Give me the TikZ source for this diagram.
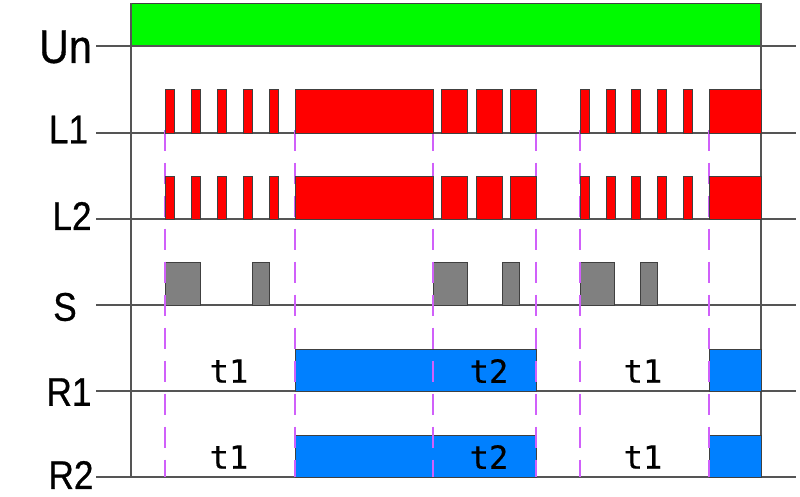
\documentclass[tikz,border=0pt]{standalone}
\usepackage{fontspec}
\usepackage{graphicx}
\setmainfont{Liberation Sans}
\newfontfamily\lblfont{Liberation Sans}[FakeBold=0.7]
\newfontfamily\tfont{DejaVu Sans Mono}[FakeBold=0.5]
\definecolor{ungreen}{RGB}{0,250,0}
\definecolor{pred}{RGB}{255,0,0}
\definecolor{pgray}{RGB}{128,128,128}
\definecolor{pblue}{RGB}{0,128,255}
\definecolor{dmag}{RGB}{208,96,250}
\definecolor{axgray}{RGB}{85,85,85}
\begin{document}
\begin{tikzpicture}[x=1pt,y=-1pt,
  axis/.style={draw=axgray,line width=1.6pt},
  redpulse/.style={draw=black!75,line width=0.9pt,fill=pred},
  graypulse/.style={draw=black!75,line width=0.9pt,fill=pgray},
  bluepulse/.style={draw=black!75,line width=0.9pt,fill=pblue},
  greenbox/.style={draw=black!75,line width=0.9pt,fill=ungreen},
  marker/.style={draw=dmag,line width=1.7pt,dash pattern=on 21.5pt off 11.5pt},
  rowlabel/.style={inner sep=0pt,anchor=center,font=\lblfont\fontsize{40}{40}\selectfont},
  tlabel/.style={inner sep=0pt,anchor=center,font=\tfont\fontsize{32}{32}\selectfont}]
\useasboundingbox (0,0) rectangle (800,496);
% green supply box
\path[greenbox] (131,3) rectangle (761,46);
% horizontal axes
\foreach \yy in {46,133,219,305,391,477}{
  \draw[axis] (96,\yy) -- (796,\yy);
}
% vertical axes
\draw[axis] (131,3) -- (131,477);
\draw[axis] (761,3) -- (761,477);
% blue relay boxes
\foreach \top/\bot in {349/391,435/477}{
  \path[bluepulse] (295,\top) rectangle (536,\bot);
  \path[bluepulse] (709,\top) rectangle (761,\bot);
}
% gray pulses S
\foreach \xa/\xb in {165/200,252/269,433/467,502/519,580/614,640/657}{
  \path[graypulse] (\xa,262) rectangle (\xb,305);
}
% magenta dashed markers
\foreach \xx [count=\i] in {165,295,433,536,580,709}{
  \coordinate (mt\i) at (\xx,129.5);
  \coordinate (mb\i) at (\xx,477);
  \draw[marker] (mt\i) -- (mb\i);
}
% red pulses L1, L2
\foreach \top/\bot in {89/133,176/219}{
  \foreach \xa in {165,191,217,243,269,580,606,631,657,683}{
    \path[redpulse] (\xa,\top) rectangle (\xa+9,\bot);
  }
  \path[redpulse] (295,\top) rectangle (433,\bot);
  \foreach \xa in {441,476,510}{
    \path[redpulse] (\xa,\top) rectangle (\xa+26,\bot);
  }
  \path[redpulse] (709,\top) rectangle (761,\bot);
}
% row labels
\node[rowlabel,font=\lblfont\fontsize{47}{47}\selectfont] (lun) at (65.5,47) {\scalebox{0.88}[1]{Un}};
\node[rowlabel] (ll1) at (68.5,129.5) {\scalebox{0.88}[1]{L1}};
\node[rowlabel] (ll2) at (72,216) {\scalebox{0.88}[1]{L2}};
\node[rowlabel] (ls) at (65,307) {\scalebox{0.88}[1]{S}};
\node[rowlabel] (lr1) at (69,392) {\scalebox{0.88}[1]{R1}};
\node[rowlabel] (lr2) at (71,475) {\scalebox{0.88}[1]{R2}};
% time labels
\node[tlabel] (ta1) at (229,371) {t1};
\node[tlabel] (tb1) at (489,371) {t2};
\node[tlabel] (tc1) at (643,371) {t1};
\node[tlabel] (ta2) at (229,457) {t1};
\node[tlabel] (tb2) at (489,457) {t2};
\node[tlabel] (tc2) at (643,457) {t1};
\end{tikzpicture}
\end{document}
